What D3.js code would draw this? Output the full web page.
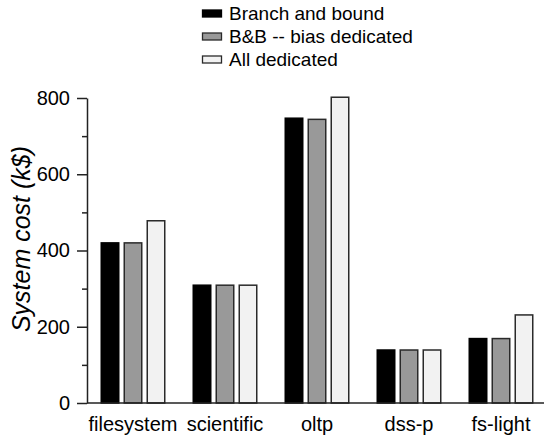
<!DOCTYPE html>
<html>
<head>
<meta charset="utf-8">
<script src="https://cdn.jsdelivr.net/npm/d3@7"></script>
<style>
  html, body { margin: 0; padding: 0; background: #fff; }
  svg { display: block; font-family: "Liberation Sans", Arial, Helvetica, sans-serif; }
</style>
</head>
<body>
<svg id="chart" width="544" height="440"></svg>
<script>
// Workloads on the x axis
const categories = ["filesystem", "scientific", "oltp", "dss-p", "fs-light"];
// Series names (legend order)
const seriesNames = ["Branch and bound", "B&B -- bias dedicated", "All dedicated"];
// System cost in k$ per workload, one array per series
const branchAndBound = [420, 309, 747, 139, 169];
const bbBiasDedicated = [420, 309, 744, 139, 169];
const allDedicated = [478, 309, 802, 139, 231];
// Y axis ticks
const yMajorTicks = [0, 200, 400, 600, 800];
const yMinorTicks = [100, 300, 500, 700];

const seriesValues = [branchAndBound, bbBiasDedicated, allDedicated];
const fills = ["#000000", "#999999", "#f2f2f2"];
const strokes = ["#000000", "#2a2a2a", "#2a2a2a"];

const svg = d3.select("#chart");
const axisLeft = 87, axisBottom = 403, axisTop = 98, plotRight = 547;

const x0 = d3.scaleBand()
  .domain(categories)
  .range([axisLeft, plotRight])
  .paddingInner(27 / 92)
  .paddingOuter(13.5 / 92);

const x1 = d3.scaleBand()
  .domain(d3.range(seriesNames.length))
  .range([0, x0.bandwidth()])
  .paddingInner(4 / 23);

const y = d3.scaleLinear().domain([0, 800]).range([axisBottom, axisTop]);

// Bars
const groups = svg.append("g").selectAll("g")
  .data(categories)
  .join("g")
  .attr("transform", c => `translate(${x0(c)},0)`);

groups.selectAll("rect")
  .data((c, ci) => seriesValues.map((vals, si) => ({ si, v: vals[ci] })))
  .join("rect")
  .attr("x", d => x1(d.si) + 0.75)
  .attr("width", x1.bandwidth() - 1.5)
  .attr("y", d => y(d.v))
  .attr("height", d => y(0) - y(d.v))
  .attr("fill", d => fills[d.si])
  .attr("stroke", d => strokes[d.si])
  .attr("stroke-width", 1.5);

// Y axis: major ticks with labels, minor ticks without
const yAxis = svg.append("g")
  .attr("transform", `translate(${axisLeft},0)`)
  .call(d3.axisLeft(y).tickValues(yMajorTicks).tickSize(10).tickPadding(7).tickSizeOuter(0));
yAxis.selectAll("text").attr("font-size", 20).attr("fill", "#000")
  .style("font-family", "'Liberation Sans', Arial, sans-serif");
yAxis.selectAll("line").attr("stroke", "#222").attr("stroke-width", 1.5);
yAxis.select(".domain").attr("stroke", "#222").attr("stroke-width", 1.5);

const yMinor = svg.append("g")
  .attr("transform", `translate(${axisLeft},0)`)
  .call(d3.axisLeft(y).tickValues(yMinorTicks).tickSize(5).tickFormat("").tickSizeOuter(0));
yMinor.select(".domain").remove();
yMinor.selectAll("line").attr("stroke", "#222").attr("stroke-width", 1.5);

// X axis: baseline and category labels
const xAxis = svg.append("g")
  .attr("transform", `translate(0,${axisBottom})`)
  .call(d3.axisBottom(x0).tickSize(0).tickPadding(14).tickSizeOuter(0));
xAxis.select(".domain").attr("stroke", "#222").attr("stroke-width", 1.5)
  .attr("d", `M${axisLeft},0H544`);
xAxis.selectAll("text").attr("font-size", 20).attr("fill", "#000")
  .style("font-family", "'Liberation Sans', Arial, sans-serif");

// Y axis title
svg.append("text")
  .attr("transform", "translate(30,239) rotate(-90)")
  .attr("text-anchor", "middle")
  .attr("font-size", 25)
  .attr("font-style", "italic")
  .attr("fill", "#000")
  .text("System cost (k$)");

// Legend
const legend = svg.append("g").attr("transform", "translate(202,0)");
const legendRows = legend.selectAll("g")
  .data(seriesNames)
  .join("g")
  .attr("transform", (d, i) => `translate(0,${13.5 + i * 23})`);
legendRows.append("rect")
  .attr("x", 0.5).attr("y", -3.5)
  .attr("width", 19).attr("height", 7)
  .attr("fill", (d, i) => fills[i])
  .attr("stroke", (d, i) => strokes[i])
  .attr("stroke-width", 1.3);
legendRows.append("text")
  .attr("x", 27)
  .attr("dy", "0.36em")
  .attr("font-size", 19)
  .attr("fill", "#000")
  .text(d => d);
</script>
</body>
</html>
